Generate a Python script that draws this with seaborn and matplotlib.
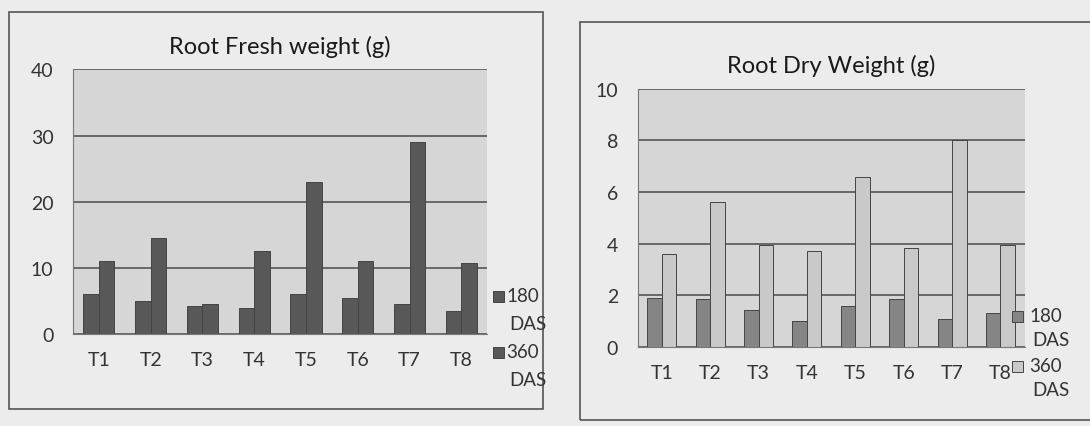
import seaborn as sns
import matplotlib.pyplot as plt
import matplotlib.patches as mpatches
import pandas as pd

treatments = ['T1', 'T2', 'T3', 'T4', 'T5', 'T6', 'T7', 'T8']
fresh_180 = [6.0, 5.0, 4.2, 4.0, 6.0, 5.5, 4.5, 3.5]
fresh_360 = [11.0, 14.5, 4.6, 12.5, 23.0, 11.0, 29.0, 10.8]
dry_180 = [1.9, 1.85, 1.45, 1.0, 1.6, 1.85, 1.1, 1.3]
dry_360 = [3.6, 5.6, 3.95, 3.7, 6.6, 3.85, 8.0, 3.95]
groups = ['180 DAS', '360 DAS']

sns.set_style("white")
plt.rcParams['font.family'] = ['Lato', 'DejaVu Sans']

W, H = 1090, 427

def make_df(a, b):
    return pd.DataFrame({'T': treatments * 2,
                         'v': a + b,
                         'g': [groups[0]] * 8 + [groups[1]] * 8})

def legend(fig, colors, x, ys, dy, gap):
    # excel-like legend: swatch + number, then "DAS" on the next line
    for c, g, y in zip(colors, groups, ys):
        num, unit = g.split()
        fig.patches.append(mpatches.Rectangle((x / W, 1 - (y + 5.5) / H), 11 / W, 11 / H,
                                              transform=fig.transFigure, facecolor=c,
                                              edgecolor='#444444', linewidth=0.7))
        fig.text((x + gap) / W, 1 - y / H, num, fontsize=13.5, color='#333333', va='center')
        fig.text((x + gap + 3) / W, 1 - (y + dy) / H, unit, fontsize=13.5, color='#333333', va='center')

def draw(ax, df, colors, title, ymax, step):
    sns.barplot(data=df, x='T', y='v', hue='g', palette=colors, ax=ax,
                width=0.6, edgecolor='#444444', linewidth=0.7, legend=False)
    ax.set_facecolor('#d6d6d6')
    ax.set_ylim(0, ymax)
    ax.set_yticks(range(0, ymax + 1, step))
    ax.yaxis.grid(True, color='#555555', linewidth=1.2)
    ax.set_axisbelow(True)
    ax.set_xlabel('')
    ax.set_ylabel('')
    for s in ['top', 'right']:
        ax.spines[s].set_visible(False)
    ax.spines['left'].set_color('#777777')
    ax.spines['bottom'].set_color('#777777')
    ax.tick_params(axis='both', labelsize=14, colors='#333333', length=0)
    ax.tick_params(axis='y', pad=14)
    ax.tick_params(axis='x', pad=12)
    ax.set_title(title, fontsize=17, color='#1a1a1a', pad=12)

fig = plt.figure(figsize=(10.9, 4.27), dpi=100)
fig.patch.set_facecolor('#ececec')

# panel frames
fig.patches.append(mpatches.Rectangle((0.008, 0.04), 0.49, 0.93, transform=fig.transFigure,
                                      fill=False, edgecolor='#555555', linewidth=1.2))
fig.patches.append(mpatches.Rectangle((0.532, 0.015), 0.47, 0.93, transform=fig.transFigure,
                                      fill=False, edgecolor='#555555', linewidth=1.2))

ax1 = fig.add_axes([0.067, 0.215, 0.38, 0.62])
draw(ax1, make_df(fresh_180, fresh_360), ['#585858', '#585858'],
     'Root Fresh weight (g)', 40, 10)
legend(fig, ['#585858', '#585858'], 493, [297, 353], 28, 13)

ax2 = fig.add_axes([0.585, 0.185, 0.355, 0.605])
draw(ax2, make_df(dry_180, dry_360), ['#858585', '#c9c9c9'],
     'Root Dry Weight (g)', 10, 2)
legend(fig, ['#858585', '#c9c9c9'], 1012, [317, 367], 24, 17)

plt.savefig('out.png', dpi=100, facecolor=fig.get_facecolor())
